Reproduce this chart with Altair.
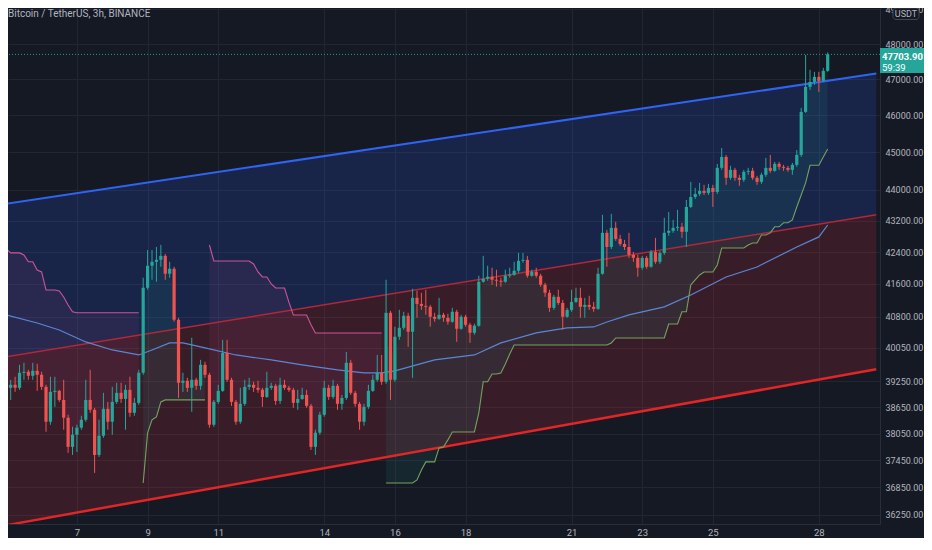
import altair as alt
import pandas as pd

# ---------------- data (BTC/USDT 3h candles) ----------------
first_open = 38980
closes = [
    39101, 39172, 39101, 39454, 39477, 39383, 39500, 39406, 39124, 38318,
    39007, 39030, 38820, 38410, 37748, 38022, 38182, 38364, 38820, 38592,
    37567, 37999, 38615, 38318, 38774, 38984, 38843, 39054, 38524, 38752,
    39454, 41506, 42054, 42153, 42203, 42303, 41854, 41979, 40721, 39219,
    39266, 39101, 39289, 39148, 39642, 39406, 38250, 38774, 39030, 39924,
    39289, 38774, 38318, 38729, 39124, 39172, 39101, 39054, 38890, 39101,
    39148, 38797, 39172, 39101, 39054, 38752, 38843, 38936, 38683, 37748,
    38068, 38478, 39101, 38890, 39148, 38729, 38866, 39690, 38984, 38729,
    38318, 38660, 39030, 39289, 39454, 39242, 40890, 39289, 40310, 40527,
    40818, 40431, 41257, 41108, 41060, 41036, 40794, 40745, 40842, 40769,
    40673, 40915, 40503, 40794, 40600, 40406, 40576, 41655, 41730, 41780,
    41705, 41680, 41655, 41805, 41830, 41929, 42178, 42203, 41805, 41904,
    41805, 41581, 41382, 41012, 41282, 41132, 40794, 40963, 41157, 41257,
    41036, 41084, 41036, 40987, 41854, 42888, 42528, 43016, 42734, 42605,
    42528, 42328, 42253, 42004, 42253, 42029, 42402, 42153, 42377, 42888,
    42939, 43016, 43042, 42914, 43556, 43815, 43894, 43974, 43921, 44053,
    43947, 44583, 44875, 44318, 44530, 44318, 44265, 44477, 44504, 44318,
    44212, 44398, 44583, 44504, 44689, 44610, 44583, 44530, 44663, 44928,
    46096, 46788, 46929, 47069, 46957, 47238, 47703.9,
]
highs = [
    39172, 39289, 39360, 39642, 39690, 39524, 39690, 39665, 39477, 39172,
    39360, 39360, 39054, 39289, 38478, 38204, 38250, 38455, 39289, 39524,
    38638, 38364, 38984, 38774, 39124, 39218, 39218, 39172, 39360, 38867,
    39524, 41755, 42452, 42452, 42528, 42580, 42352, 42153, 42029, 40769,
    39454, 39336, 40286, 39336, 39759, 39712, 39454, 38820, 39172, 40237,
    40237, 39336, 38820, 39101, 39289, 39336, 39242, 39266, 39101, 39477,
    39218, 39195, 39336, 39289, 39148, 39101, 39054, 39101, 39054, 38729,
    38136, 38546, 39266, 39172, 39289, 39195, 38936, 39947, 39759, 39030,
    38774, 38729, 39172, 39406, 39877, 39877, 41705, 40939, 40552, 40963,
    40915, 40890, 41481, 41431, 41381, 41456, 41084, 40890, 41257, 40890,
    40866, 41012, 40963, 40842, 40842, 40648, 40624, 41805, 42303, 42054,
    42004, 41954, 41755, 41954, 42004, 42153, 42377, 42377, 42303, 41954,
    42004, 41854, 41630, 41456, 41331, 41456, 41205, 41012, 41456, 41506,
    41506, 41257, 41306, 41157, 42004, 43350, 42965, 43376, 43170, 42837,
    42708, 42888, 42402, 42328, 42303, 42303, 42452, 42760, 42426, 43273,
    43427, 43222, 43479, 43145, 43736, 44212, 44053, 44185, 44133, 44159,
    44133, 44689, 45113, 44928, 44636, 44583, 44398, 44530, 44583, 44583,
    44371, 44451, 44848, 44928, 44742, 44742, 44663, 44636, 44716, 45060,
    46206, 47688, 47266, 47210, 47210, 47322, 47760,
]
lows = [
    38936, 38820, 39007, 39054, 39289, 39289, 39289, 39030, 39054, 38090,
    38250, 38660, 38774, 38136, 37612, 37567, 37634, 38136, 38318, 38524,
    37166, 37523, 37954, 38136, 38022, 38729, 38752, 38136, 38432, 38455,
    38706, 39406, 41456, 41705, 41655, 42029, 41705, 41755, 40673, 38866,
    39007, 39007, 38546, 39054, 39054, 39336, 38182, 38204, 38729, 39007,
    39242, 38683, 38250, 38273, 38683, 39054, 39007, 38984, 38660, 38866,
    39054, 38706, 38729, 39054, 39007, 38638, 38592, 38820, 38638, 37680,
    37567, 38022, 38432, 38820, 38843, 38592, 38592, 38820, 38936, 38660,
    38136, 38227, 38615, 39007, 39242, 39172, 39195, 38820, 39242, 40237,
    40479, 40068, 39336, 40769, 40963, 40842, 40552, 40673, 40721, 40673,
    40600, 40648, 40189, 40479, 40552, 40165, 40358, 40552, 41630, 41680,
    41580, 41531, 41531, 41630, 41755, 41805, 41879, 42128, 41755, 41780,
    41755, 41531, 41282, 40915, 40963, 41084, 40479, 40769, 40915, 41132,
    40769, 40769, 40963, 40915, 40963, 41830, 42029, 42477, 42683, 42554,
    42452, 42253, 42153, 41780, 41954, 41979, 42004, 42104, 42104, 42328,
    42811, 42888, 42939, 42760, 42528, 43530, 43762, 43841, 43868, 43868,
    43556, 43894, 44530, 44133, 44265, 44239, 44106, 44212, 44398, 44265,
    44133, 44159, 44345, 44451, 44477, 44530, 44504, 44477, 44398, 44610,
    44875, 46069, 46704, 46845, 46648, 46929, 47210,
]

# regression channel end points (time in days after the 5th, 00:00)
ch_t = [0, 24.625]
ch_top = [43640, 47162]
ch_mid = [39833, 43350]
ch_bot = [36025, 39537]

# supertrend (bar index -> value held until next change)
st_up_segs = [(0, 30), (46, 85)]
st_up_idx = [0, 1, 4, 5, 7, 8, 9, 12, 13, 14, 15, 16,
             46, 47, 56, 57, 58, 60, 61, 64, 65, 69, 70]
st_up_val = [42477, 42377, 42325, 42153, 41948, 41899, 41451, 41426, 41279, 41082, 40915, 40890,
             42578, 42174, 42100, 41900, 41774, 41600, 41500, 41150, 40838, 40600, 40402]
st_dn_segs = [(31, 45), (86, 186)]
st_dn_idx = [31, 32, 33, 34, 35, 36,
             86, 93, 94, 95, 98, 99, 100, 101, 107, 108, 110, 112, 113, 114, 115,
             137, 138, 150, 153, 155, 156, 157, 158, 161, 162, 168, 169, 171, 173,
             174, 176, 178, 179, 180, 181, 182, 185, 186]
st_dn_val = [36943, 38063, 38360, 38428, 38774, 38820,
             36943, 37010, 37233, 37411, 37724, 37746, 37905, 38085, 38520, 39242, 39426,
             39450, 39660, 39900, 40114, 40162, 40282, 40619, 40915, 41575, 41699, 41824,
             41899, 42074, 42503, 42578, 42630, 42833, 42886, 43042, 43145, 43218, 43554,
             43867, 44185, 44650, 44875, 45087]

# moving average (read at sample bars)
ma_idx = [0, 7, 12, 18, 24, 30, 33, 37, 40, 45, 52, 60, 67, 75, 81, 85, 88, 97, 106,
          112, 120, 127, 133, 136, 141, 149, 155, 163, 170, 179, 184, 186]
ma_val = [40838, 40643, 40474, 40186, 39994, 39875, 39994, 40162, 40162, 40042, 39875,
          39757, 39638, 39520, 39450, 39450, 39497, 39757, 39875, 40162, 40402, 40522,
          40547, 40667, 40838, 41036, 41328, 41774, 42024, 42528, 42784, 43089]

day_labels = [7, 9, 11, 14, 16, 18, 21, 23, 25, 28]
price_ticks = [36250, 36850, 37450, 38050, 38650, 39250, 40050, 40800, 41600,
               42400, 43200, 44000, 45000, 46000, 47000, 48000, 49000]
timer_text = "59:39"
title_text = "Bitcoin / TetherUS, 3h, BINANCE"

# ---------------- tables ----------------
n = len(closes)
opens = [first_open] + closes[:-1]
bars = pd.DataFrame({
    "t": [i / 8 for i in range(n)],
    "open": opens, "high": highs, "low": lows, "close": closes,
})
bars["mid"] = (bars["open"] + bars["close"]) / 2


def expand(segs, idx, val, name):
    bp = dict(zip(idx, val))
    rows = []
    for k, (s, e) in enumerate(segs):
        cur = None
        for i in range(s, e + 1):
            cur = bp.get(i, cur)
            rows.append({"t": i / 8, "st": cur, "mid": bars["mid"][i], "seg": f"{name}{k}"})
    return pd.DataFrame(rows)


st_up = expand(st_up_segs, st_up_idx, st_up_val, "u")
st_dn = expand(st_dn_segs, st_dn_idx, st_dn_val, "d")
channel = pd.DataFrame({"t": ch_t, "top": ch_top, "mid": ch_mid, "bot": ch_bot})
ma = pd.DataFrame({"t": [i / 8 for i in ma_idx], "ma": ma_val})
last = pd.DataFrame({"price": [closes[-1]], "timer": [timer_text]})
one = pd.DataFrame({"a": [0]})

# ---------------- styles ----------------
BG = "#151924"
TXT = "#b2b5be"
GRID = "#222632"
FONT = "Roboto"
UP = "#26a69a"
DOWN = "#ef5350"

xs = alt.Scale(domain=[0.1903, 24.589], nice=False, zero=False)
ys = alt.Scale(type="log", domain=[36051, 49042], nice=False, zero=False)
x_axis = alt.Axis(values=[d - 5 for d in day_labels], labelExpr="datum.value + 5",
                  title=None, ticks=False, grid=True, gridColor=GRID,
                  domainColor="#2a2e39", labelColor=TXT, labelFont=FONT,
                  labelFontSize=9.5, labelPadding=3)
y_axis = alt.Axis(orient="right", values=price_ticks, format=".2f", title=None,
                  ticks=False, grid=True, gridColor=GRID, domainColor="#2a2e39",
                  labelColor=TXT, labelFont=FONT, labelFontSize=9,
                  labelPadding=5, labelAlign="left")


def X(f="t"):
    return alt.X(f"{f}:Q", scale=xs, axis=x_axis)


def Y(f):
    return alt.Y(f"{f}:Q", scale=ys, axis=y_axis)


base_ch = alt.Chart(channel)
fill_top = base_ch.mark_area(color="#2962ff", opacity=0.17, clip=True).encode(
    x=X(), y=Y("top"), y2="mid:Q")
fill_bot = base_ch.mark_area(color="#f23645", opacity=0.16, clip=True).encode(
    x=X(), y=Y("mid"), y2="bot:Q")
line_top = base_ch.mark_line(color="#2f63f2", strokeWidth=2, clip=True).encode(x=X(), y=Y("top"))
line_mid = base_ch.mark_line(color="#b0283a", strokeWidth=1.5, clip=True).encode(x=X(), y=Y("mid"))
line_bot = base_ch.mark_line(color="#e02626", strokeWidth=2.5, clip=True).encode(x=X(), y=Y("bot"))

up_fill = alt.Chart(st_up).mark_area(color="#e0529c", opacity=0.09, clip=True).encode(
    x=X(), y=Y("st"), y2="mid:Q", detail="seg:N")
dn_fill = alt.Chart(st_dn).mark_area(color="#26a69a", opacity=0.10, clip=True).encode(
    x=X(), y=Y("st"), y2="mid:Q", detail="seg:N")
up_line = alt.Chart(st_up).mark_line(color="#cc5499", strokeWidth=1.1, clip=True).encode(
    x=X(), y=Y("st"), detail="seg:N")
dn_line = alt.Chart(st_dn).mark_line(color="#72a35f", strokeWidth=1.1, clip=True).encode(
    x=X(), y=Y("st"), detail="seg:N")

ma_line = alt.Chart(ma).mark_line(color="#5a86d6", strokeWidth=1.2, clip=True).encode(
    x=X(), y=Y("ma"))

price_line = alt.Chart(last).mark_rule(color=UP, strokeDash=[1, 2], opacity=0.9).encode(
    y=Y("price"))

candle_color = alt.condition("datum.close >= datum.open", alt.value(UP), alt.value(DOWN))
wicks = alt.Chart(bars).mark_rule(strokeWidth=1, clip=True).encode(
    x=X(), y=Y("low"), y2="high:Q", color=candle_color)
bodies = alt.Chart(bars).mark_bar(size=3.2, clip=True).encode(
    x=X(), y=Y("open"), y2="close:Q", color=candle_color)

title = alt.Chart(one).mark_text(text=title_text, align="left", baseline="middle",
                                 font=FONT, fontSize=10, color=TXT).encode(
    x=alt.value(0), y=alt.value(6))

price_box = alt.Chart(last).mark_rect(color=UP, yOffset=-6.5, y2Offset=18.5).encode(
    y=Y("price"), y2="price:Q", x=alt.value(872), x2=alt.value(916))
price_txt = alt.Chart(last).mark_text(align="left", baseline="middle", font=FONT,
                                      fontSize=9.5, fontWeight="bold", color="white", dy=2.5).encode(
    y=Y("price"), x=alt.value(874), text=alt.Text("price:Q", format=".2f"))
timer_txt = alt.Chart(last).mark_text(align="left", baseline="middle", font=FONT,
                                      fontSize=9.5, color="white", dy=13.5).encode(
    y=Y("price"), x=alt.value(874), text="timer:N")

badge = alt.Chart(one).mark_rect(fill=BG, stroke="#434651", strokeWidth=1, cornerRadius=3).encode(
    x=alt.value(885), x2=alt.value(911), y=alt.value(0), y2=alt.value(11.5))
badge_txt = alt.Chart(one).mark_text(text="USDT", align="center", baseline="middle",
                                     font=FONT, fontSize=9, color=TXT).encode(
    x=alt.value(898), y=alt.value(6))

chart = alt.layer(
    fill_top, fill_bot, up_fill, dn_fill, line_mid, line_top, line_bot,
    ma_line, up_line, dn_line, price_line, wicks, bodies,
    title, price_box, price_txt, timer_txt, badge, badge_txt,
).properties(
    width=872, height=516,
    autosize=alt.AutoSizeParams(type="none"),
    padding={"left": 0, "top": 0, "right": 44, "bottom": 14},
).configure(background=BG).configure_view(stroke=None)

chart.save("out.html", embed_options={"renderer": "svg", "actions": False})
